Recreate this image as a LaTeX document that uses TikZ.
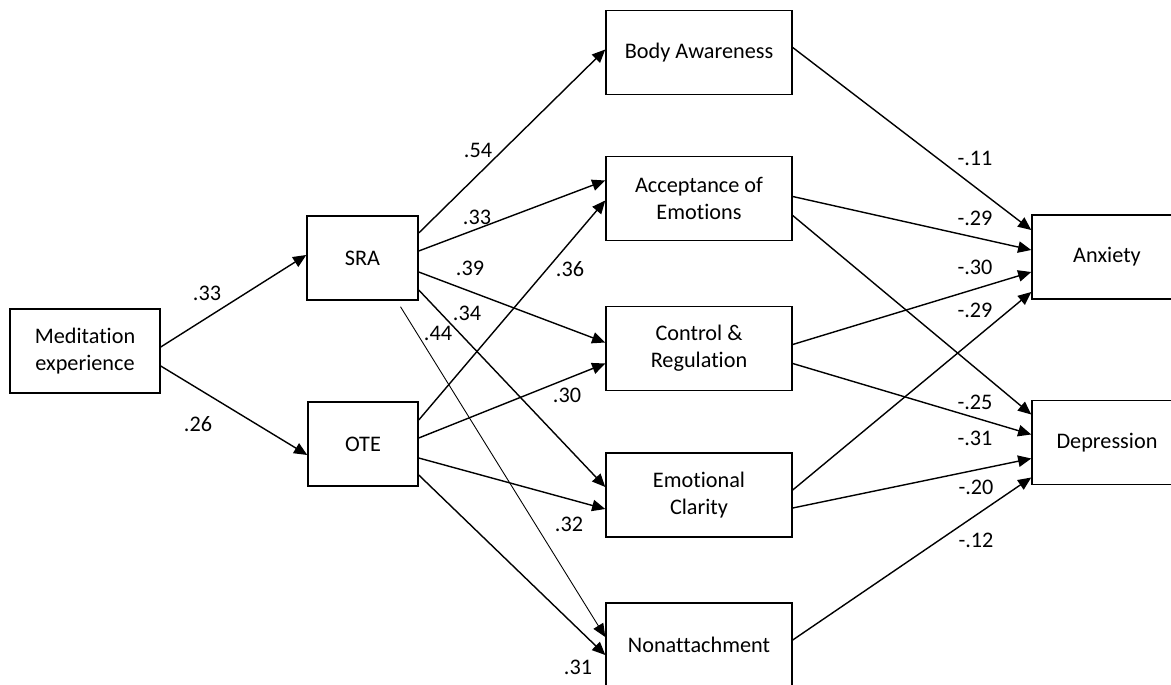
\documentclass[tikz,border=0pt]{standalone}
\usepackage{fontspec}
\setmainfont{Carlito}[Ligatures=NoCommon]
\usetikzlibrary{arrows.meta,calc}

\begin{document}
\begin{tikzpicture}
  [x=0.02cm, y=0.02cm,
   var/.style={draw, line width=0.85pt, minimum height=1.68cm, align=center,
               inner sep=0, font=\fontsize{12.66pt}{15.4pt}\selectfont},
   coef/.style={inner sep=0, font=\fontsize{12.66pt}{15.4pt}\selectfont},
   arr/.style={line width=0.8pt, -{Triangle[length=7.5pt,width=6.5pt]}},
   thinarr/.style={line width=0.5pt, -{Triangle[length=7.5pt,width=6.5pt]}}]

  \useasboundingbox (0, 0) rectangle (1171, 684);

  % predictor and the two facets
  \node[var, minimum width=3cm] (med) at (85, 333) {Meditation\\experience};
  \node[var, minimum width=2.22cm] (sra) at (362.5, 426) {SRA};
  \node[var, minimum width=2.2cm] (ote) at (363, 240) {OTE};

  % mediators
  \node[var, minimum width=3.72cm] (ba) at (699, 631.5) {Body Awareness};
  \node[var, minimum width=3.72cm] (acc) at (699, 485.5) {Acceptance of\\Emotions};
  \node[var, minimum width=3.72cm] (ctl) at (699, 335.5) {Control \&\\Regulation};
  \node[var, minimum width=3.72cm] (clr) at (699, 189) {Emotional\\Clarity};
  \node[var, minimum width=3.72cm] (non) at (699, 39) {Nonattachment};

  % outcomes
  \node[var, minimum width=3cm] (anx) at (1107, 427) {Anxiety};
  \node[var, minimum width=3cm] (dep) at (1107, 241.5) {Depression};

  % meditation -> SRA, OTE
  \draw[arr] ($(med.east)+(0,4)$) -- ($(sra.west)+(0,3)$);
  \draw[arr] ($(med.east)+(0,-15)$) -- ($(ote.west)+(0,-11)$);
  \node[coef] (m1) at (207, 391) {.33};
  \node[coef] (m2) at (198, 260) {.26};

  % SRA -> mediators
  \draw[arr] ($(sra.east)+(0,25)$) -- ($(ba.west)+(0,3)$);
  \draw[arr] ($(sra.east)+(0,7)$) -- ($(acc.west)+(0,18)$);
  \draw[arr] ($(sra.east)+(0,-14)$) -- ($(ctl.west)+(0,6)$);
  \draw[arr] ($(sra.east)+(0,-32)$) -- ($(clr.west)+(0,8)$);
  \draw[thinarr] ($(sra.south)+(38,-6)$) -- ($(non.west)+(0,8)$);
  \node[coef] (s1) at (478, 534) {.54};
  \node[coef] (s2) at (477, 467) {.33};
  \node[coef] (s3) at (470, 416) {.39};
  \node[coef] (s4) at (467, 371) {.34};
  \node[coef] (s5) at (438, 351) {.44};

  % OTE -> mediators
  \draw[arr] ($(ote.east)+(0,24)$) -- ($(acc.west)+(0,-2)$);
  \draw[arr] ($(ote.east)+(0,6)$) -- ($(ctl.west)+(0,-15)$);
  \draw[arr] ($(ote.east)+(0,-14)$) -- ($(clr.west)+(0,-14)$);
  \draw[arr] ($(ote.east)+(0,-31)$) -- ($(non.west)+(0,-10)$);
  \node[coef] (o1) at (570, 415) {.36};
  \node[coef] (o2) at (567, 289) {.30};
  \node[coef] (o3) at (569, 160) {.32};
  \node[coef] (o4) at (578, 17) {.31};

  % mediators -> anxiety, depression
  \draw[arr] ($(ba.east)+(0,5)$) -- ($(anx.west)+(0,27)$);
  \draw[arr] ($(acc.east)+(0,2)$) -- ($(anx.west)+(0,7)$);
  \draw[arr] ($(acc.east)+(0,-17)$) -- ($(dep.west)+(0,28)$);
  \draw[arr] ($(ctl.east)+(0,4)$) -- ($(anx.west)+(0,-15)$);
  \draw[arr] ($(ctl.east)+(0,-15)$) -- ($(dep.west)+(0,8)$);
  \draw[arr] ($(clr.east)+(0,5)$) -- ($(anx.west)+(0,-35)$);
  \draw[arr] ($(clr.east)+(0,-13)$) -- ($(dep.west)+(0,-16)$);
  \draw[arr] ($(non.east)+(0,5)$) -- ($(dep.west)+(0,-35)$);
  \node[coef] (a1) at (975, 526) {-.11};
  \node[coef] (a2) at (975, 466) {-.29};
  \node[coef] (a3) at (975, 417) {-.30};
  \node[coef] (a4) at (975, 374) {-.29};
  \node[coef] (d1) at (975, 282) {-.25};
  \node[coef] (d2) at (975, 246) {-.31};
  \node[coef] (d3) at (976, 197) {-.20};
  \node[coef] (d4) at (976, 144) {-.12};

\end{tikzpicture}
\end{document}
